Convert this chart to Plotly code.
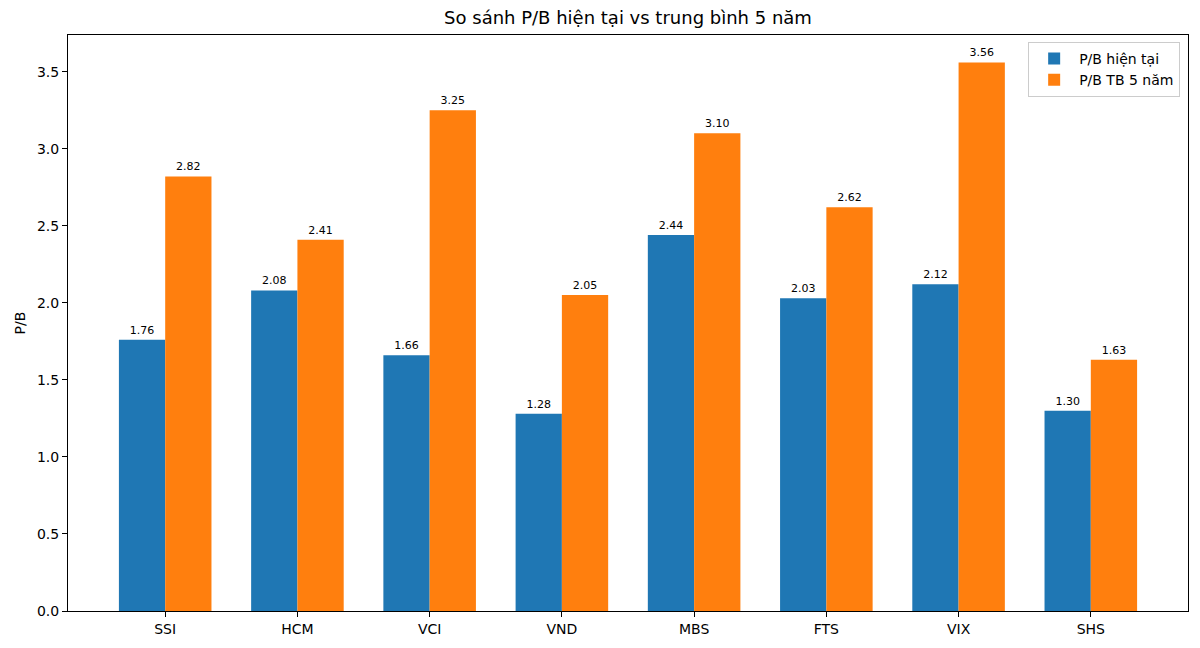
import plotly.graph_objects as go

# du lieu P/B
ma_ck = ['SSI', 'HCM', 'VCI', 'VND', 'MBS', 'FTS', 'VIX', 'SHS']
pb_hien_tai = [1.76, 2.08, 1.66, 1.28, 2.44, 2.03, 2.12, 1.30]
pb_tb_5nam = [2.82, 2.41, 3.25, 2.05, 3.10, 2.62, 3.56, 1.63]
y_ticks = [0.0, 0.5, 1.0, 1.5, 2.0, 2.5, 3.0, 3.5]

fnt = 'DejaVu Sans'

fig = go.Figure()
fig.add_trace(go.Bar(name='P/B hiện tại', x=ma_ck, y=pb_hien_tai,
                     marker_color='#1f77b4', marker_line_width=0,
                     texttemplate='%{y:.2f}', textposition='outside',
                     textfont=dict(size=11, color='black', family=fnt),
                     cliponaxis=False))
fig.add_trace(go.Bar(name='P/B TB 5 năm', x=ma_ck, y=pb_tb_5nam,
                     marker_color='#ff7f0e', marker_line_width=0,
                     texttemplate='%{y:.2f}', textposition='outside',
                     textfont=dict(size=11, color='black', family=fnt),
                     cliponaxis=False))

# trang html co le 8px nen bu lai o day
fig.update_layout(
    width=1192, height=640,
    paper_bgcolor='white', plot_bgcolor='white',
    font=dict(family=fnt, size=14, color='black'),
    margin=dict(l=60, r=12, t=27, b=37, autoexpand=False),
    barmode='group', bargap=0.3, bargroupgap=0,
    title=dict(text='So sánh P/B hiện tại vs trung bình 5 năm', xref='paper', x=0.5,
               xanchor='center', y=1 - 10 / 640, yanchor='middle', font=dict(size=18)),
    legend=dict(x=0.993, xanchor='right', y=0.988, yanchor='top',
                bordercolor='#cccccc', borderwidth=1, bgcolor='rgba(255,255,255,0.8)',
                font=dict(size=14), itemwidth=40),
    showlegend=True,
)
fig.update_xaxes(range=[-0.735, 7.735], showline=True, linecolor='black', mirror=True,
                 ticks='outside', ticklen=5, tickcolor='black', showgrid=False,
                 automargin=False)
fig.update_yaxes(range=[0, 3.738], showline=True, linecolor='black', mirror=True,
                 ticks='outside', ticklen=5, tickcolor='black', showgrid=False,
                 tickvals=y_ticks, tickformat='.1f', zeroline=False, automargin=False,
                 title=dict(text='P/B', font=dict(size=14), standoff=8))

fig.write_html('out.html')
